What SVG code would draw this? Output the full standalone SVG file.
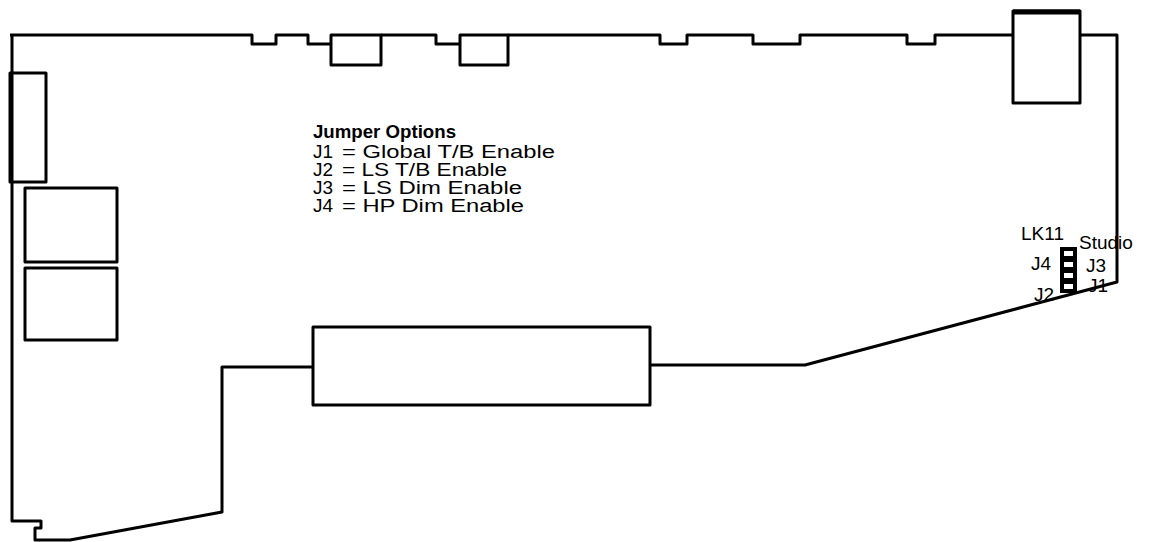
<svg xmlns="http://www.w3.org/2000/svg" width="1151" height="542" viewBox="0 0 1151 542">
<style>
.o{fill:none;stroke:#000;stroke-width:3;stroke-linejoin:round}
.t{font-family:"Liberation Sans",Arial,sans-serif;font-size:18px;fill:#000}
.s{font-family:"Liberation Sans",Arial,sans-serif;font-size:19px;fill:#000}
</style>
<rect width="1151" height="542" fill="#fff"/>
<g id="board">
<path class="o" d="M10,35 H252 V44 H276 V35 H308 V44 H331 M381,35 H436 V44 H460 M508,35 H660 V44 H687 V35 H753 V44 H800 V35 H907 V44 H935 V35 H1013 M1080,35 H1117 V282 L805,365 H650 M313,367 H222 V512 L70,540 H35 V528 H41 V521 H12 V35"/>
</g>
<g id="connectors-top">
<rect class="o" x="331" y="35" width="50" height="30"/>
<rect class="o" x="460" y="35" width="48" height="30"/>
<rect class="o" x="1013" y="11" width="67" height="92"/>
<line x1="1013" y1="12" x2="1080" y2="12" stroke="#000" stroke-width="5"/>
</g>
<g id="connectors-left">
<rect class="o" x="10" y="73" width="36" height="109"/>
<rect class="o" x="25" y="188" width="92" height="74"/>
<rect class="o" x="25" y="268" width="92" height="72"/>
</g>
<g id="connector-bottom">
<rect class="o" x="313" y="327" width="337" height="78"/>
</g>
<g id="legend">
<text class="t" x="313" y="138" font-weight="bold" textLength="143" lengthAdjust="spacingAndGlyphs">Jumper Options</text>
<text class="t" x="313" y="158" textLength="20" lengthAdjust="spacingAndGlyphs">J1</text><text class="t" x="342" y="158" textLength="213" lengthAdjust="spacingAndGlyphs">= Global T/B Enable</text>
<text class="t" x="313" y="176" textLength="20" lengthAdjust="spacingAndGlyphs">J2</text><text class="t" x="342" y="176" textLength="165" lengthAdjust="spacingAndGlyphs">= LS T/B Enable</text>
<text class="t" x="313" y="194" textLength="20" lengthAdjust="spacingAndGlyphs">J3</text><text class="t" x="342" y="194" textLength="180" lengthAdjust="spacingAndGlyphs">= LS Dim Enable</text>
<text class="t" x="313" y="212" textLength="20" lengthAdjust="spacingAndGlyphs">J4</text><text class="t" x="342" y="212" textLength="182" lengthAdjust="spacingAndGlyphs">= HP Dim Enable</text>
</g>
<g id="LK11">
<rect x="1060" y="247" width="17" height="46" fill="#000"/>
<rect x="1064" y="251" width="9" height="5" fill="#fff"/>
<rect x="1064" y="262" width="9" height="5" fill="#fff"/>
<rect x="1064" y="273" width="9" height="5" fill="#fff"/>
<rect x="1064" y="284" width="9" height="5" fill="#fff"/>
<text class="s" x="1021" y="240">LK11</text>
<text class="s" x="1079" y="249">Studio</text>
<text class="s" x="1031" y="270">J4</text>
<text class="s" x="1086" y="272">J3</text>
<text class="s" x="1034" y="301">J2</text>
<text class="s" x="1088" y="292">J1</text>
</g>
</svg>
